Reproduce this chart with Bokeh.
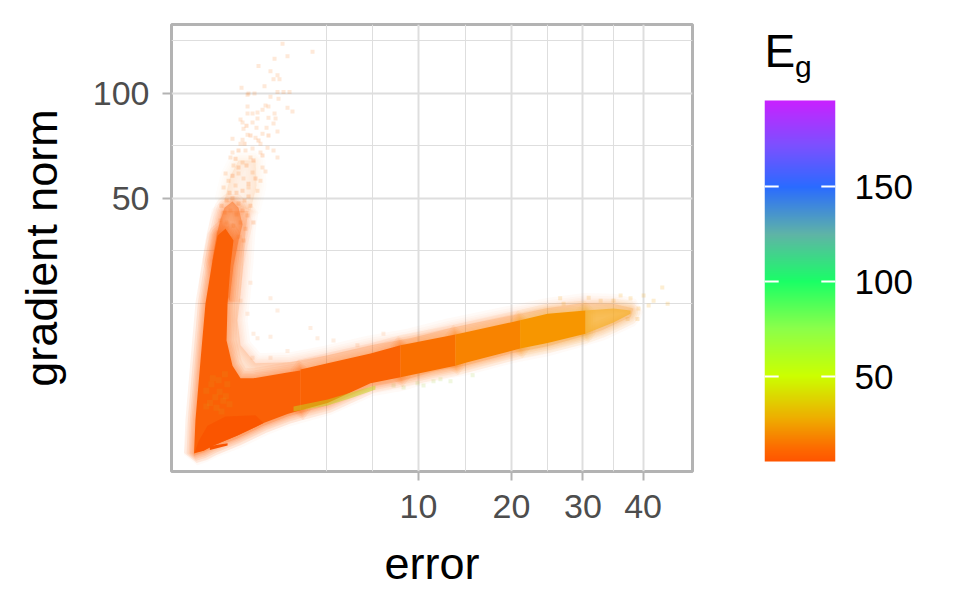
import numpy as np
from bokeh.embed import file_html
from bokeh.resources import INLINE
from bokeh.layouts import row
from bokeh.plotting import figure
from bokeh.models import (Range1d, FixedTicker, CustomJSTickFormatter, BasicTickFormatter,
                          LinearAxis, LinearColorMapper, Label)

FONT = "Liberation Sans"

# ---- axes ----
error_ticks = [10, 20, 30, 40]
error_minor = [3.48, 6.3, 14.6, 24.8, 34.9]
grad_ticks = [50, 100]
grad_minor = [25, 35.4, 70.9, 142]
eg_ticks = [50, 100, 150]
eg_low, eg_high = 5.3, 195.3
eg_stops = [5.3, 12, 28, 50, 75, 100, 125, 150, 172, 195.3]
eg_colors = ["#FF5500", "#FD6A00", "#EEAE00", "#CCFF00", "#8BFF4A", "#19FF66",
             "#5FB4A6", "#2A6BFF", "#7C50FF", "#C822FF"]

# ---- thin upper part of the spike ----
far_err = [0.1845, 0.264, 0.393, 0.75, 0.775, 0.633]
far_grad = [49.3, 58.0, 64.2, 64.2, 54.4, 46.1]

# ---- halo round the whole cloud ----
halo_err = [0.0477, 0.0755, 0.119, 0.15, 0.589, 0.526, 0.486, 0.429, 0.375, 0.429, 0.75, 1.848,
            3.54, 6.18, 9.30, 13.05, 19.87, 24.8, 30.1, 34.9, 38.3, 37.8, 32.8, 30.1, 24.8, 19.87,
            14.84, 11.38, 8.46, 6.18, 3.54, 1.734, 0.96, 0.375, 0.0755, 0.018, 0.0, 0.026]
halo_grad = [29, 35.4, 41.0, 46.0, 46.0, 40.4, 33.1, 26.3, 22.3, 18.9, 16.8, 16.9,
             17.7, 18.9, 19.8, 21.2, 23.0, 24.2, 25.0, 24.9, 24.1, 22.8, 20.8, 20.1, 18.8, 17.9,
             16.6, 15.9, 14.9, 14.4, 12.7, 11.8, 11.1, 10.2, 9.6, 9.3, 9.1, 20.8]

# ---- upper spike, medium density ----
spike_mid_err = [0.068, 0.1004, 0.139, 0.1845, 0.294, 0.393, 0.4666, 0.393, 0.3095, 0.25]
spike_mid_grad = [33.1, 39.1, 43.5, 47.0, 49.0, 47.0, 42.0, 37.8, 32.0, 25.4]

# ---- dense left part and start of the branch ----
core_err = [0.0, 0.0004, 0.0084, 0.026, 0.068, 0.110, 0.197, 0.309, 0.264, 0.223, 0.21, 0.294,
            0.429, 0.702, 1.734, 2.25, 2.25, 1.734, 0.96, 0.375, 0.0755, 0.018]
core_grad = [9.24, 11.5, 17.1, 24.9, 33.1, 39.1, 40.9, 37.8, 32.0, 24.9, 19.5, 16.5,
             15.2, 15.2, 15.8, 16.0, 12.3, 12.0, 11.3, 10.4, 9.74, 9.41]

# ---- yellowish speckles inside the core ----
mix_err = [0.03, 0.06, 0.09, 0.13, 0.17, 0.05, 0.1, 0.2, 0.15, 0.07, 0.12, 0.03, 0.22, 0.25, 0.19]
mix_grad = [14.0, 14.6, 13.4, 13.9, 13.1, 12.9, 12.5, 13.5, 12.2, 15.2, 15.0, 12.6, 14.6, 12.8, 15.6]

# ---- red wedge at the lower left ----
wedge_err = [0.0001, 0.018, 0.0755, 0.375, 0.96, 0.75, 0.197, 0.036, 0.004]
wedge_grad = [9.3, 9.41, 9.74, 10.4, 11.3, 11.9, 11.8, 11.1, 10.0]
spur_err = [0.05, 0.223, 0.223, 0.05]
spur_grad = [9.7, 9.88, 9.74, 9.45]

# ---- branch, from low error to high error ----
seg_a_err = [2.25, 3.54, 6.18, 8.46, 8.46, 6.18, 3.54, 2.25]
seg_a_grad = [16.1, 16.8, 17.9, 18.9, 15.3, 14.7, 12.9, 12.3]
seg_b_err = [8.46, 13.56, 13.56, 8.46]
seg_b_grad = [18.9, 20.3, 16.5, 15.3]
seg_c_err = [13.56, 19.87, 21.1, 21.1, 14.84, 13.56]
seg_c_grad = [20.3, 22.0, 22.3, 18.5, 16.9, 16.5]
seg_d_err = [21.1, 24.8, 30.4, 30.4, 24.8, 21.1]
seg_d_grad = [22.3, 23.3, 23.8, 20.4, 19.2, 18.5]
seg_e_err = [30.4, 34.9, 37.8, 37.8, 34.9, 30.4]
seg_e_grad = [23.8, 24.1, 23.8, 23.3, 22.0, 20.4]

# ---- low-gradient green sliver ----
sliver_err = [1.964, 3.54, 5.05, 6.53, 6.53, 5.05, 3.54, 1.964]
sliver_grad = [12.6, 13.2, 13.9, 14.5, 14.1, 13.4, 12.7, 12.2]

# ---- single visible points ----
top_err = [1.554, 2.786, 1.734, 1.286, 0.825, 1.16, 1.383, 1.254, 1.45, 0.986, 0.448, 0.589, 0.726,
           0.568, 1.16, 1.383, 1.59, 1.81, 1.416, 0.568, 1.014, 1.10, 1.734, 1.924, 0.931, 0.80,
           0.679, 0.568, 1.286, 1.10, 0.80, 0.429, 0.467, 1.318, 0.679, 1.254, 0.486, 1.043, 0.775,
           1.383, 0.931, 0.568, 0.294, 0.467, 0.75, 0.429, 0.877, 0.679, 0.294, 0.526, 1.072, 1.254,
           0.877, 0.264, 0.633, 1.383, 0.467, 0.309, 0.931, 0.197, 0.393, 0.679, 1.014, 0.236,
           0.486, 0.877, 0.173, 0.342, 0.589, 0.80]
top_grad = [139, 132, 128, 126, 120, 116, 113, 110, 110, 105, 104, 100, 100,
            99.3, 98, 101, 101, 101, 96.7, 91.8, 92.4, 91.8, 91.1, 88.8, 89.9, 88.2,
            87.6, 87.6, 87.6, 85.3, 84.8, 84.2, 82.6, 84.8, 82.6, 82, 79.3, 79.8, 79.8,
            77.8, 76.7, 76.2, 74.2, 73.7, 74.7, 71.8, 71.8, 69.5, 67.7, 68.6, 69.9, 68.6,
            67.7, 65.5, 65.5, 65.5, 63.4, 62.1, 61.3, 58.9, 58.9, 59.3, 59.7, 56.2,
            57, 56.2, 53.7, 54.4, 53.7, 52.6]
mid_err = [0.15, 0.21, 0.294, 0.393, 0.506, 0.589, 0.1845, 0.264, 0.358, 0.467, 0.568, 0.139, 0.21,
           0.309, 0.429, 0.526, 0.119, 0.1845, 0.264, 0.393, 0.486, 0.633, 0.702, 0.25, 0.358, 0.467,
           0.589, 0.75, 0.294, 0.393, 0.547, 0.702, 0.393, 0.506, 0.633, 0.825, 0.342, 0.931, 1.10,
           0.547]
mid_grad = [47.6, 49.3, 50, 48.3, 49.3, 50.6, 45.5, 46.1, 44.9, 46.1, 44.6, 43.2, 42.6,
            41.7, 42.6, 40.9, 39.9, 39.1, 38.3, 38.8, 37.8, 47.6, 42.6, 51.9, 51.9, 52.6,
            55.1, 57, 58.1, 61.3, 62.1, 64.2, 68.6, 71.8, 75.8, 73.3, 65, 66.4, 75.8,
            80.9]
gap_err = [0.633, 0.429, 0.568, 1.383, 0.80, 1.16, 0.679, 1.16, 1.734, 2.69, 3.025, 3.86, 0.702,
           5.30, 7.12, 1.16]
gap_grad = [28.6, 25.4, 23.3, 23.8, 19.8, 20, 17.4, 17.4, 18.2, 21.2, 19.8, 19.5, 20.4,
            18.9, 20.4, 25.8]
tip_err = [34.9, 36.1, 37.8, 40.1, 41.9, 44.5, 43.5, 39.0, 37.3, 39.2, 30.9, 32.8, 27.1, 26.6, 41.0]
tip_grad = [25.4, 26.3, 25.8, 26.3, 25.4, 24.9, 27.7, 22.5, 22.5, 24.1, 25.9, 25.4, 24.9, 25.8, 24.6]
faint_err = [13.05, 12.05, 11.38, 8.71, 9.91, 7.9, 10.45, 15.4]
faint_grad = [14.9, 15.1, 14.9, 14.3, 14.7, 14.5, 14.5, 15.5]


def rt(v):
    return np.sqrt(np.asarray(v, dtype=float))


p = figure(output_backend="svg", toolbar_location=None, frame_width=521, frame_height=447,
           min_border_left=171, min_border_right=12, min_border_top=24, min_border_bottom=110,
           x_range=Range1d(-0.317, 7.021), y_range=Range1d(8.2, 158), y_axis_type="log",
           background_fill_color="white", border_fill_color="white",
           outline_line_color="#B3B3B3", outline_line_width=3)

xtick = FixedTicker(ticks=list(rt(error_ticks)), minor_ticks=list(rt(error_minor)))
ytick = FixedTicker(ticks=grad_ticks, minor_ticks=grad_minor)
p.xaxis.ticker = xtick
p.yaxis.ticker = ytick
p.xgrid.ticker = xtick
p.ygrid.ticker = ytick
p.xaxis.formatter = CustomJSTickFormatter(code="return String(Math.round(tick*tick))")
p.yaxis.formatter = BasicTickFormatter()
for g in (p.xgrid, p.ygrid):
    g.grid_line_color = "#DEDEDE"
    g.grid_line_width = 2
    g.minor_grid_line_color = "#DEDEDE"
    g.minor_grid_line_width = 1
for a in (p.xaxis, p.yaxis):
    a.axis_line_color = None
    a.major_tick_line_color = "#B3B3B3"
    a.major_tick_line_width = 2
    a.major_tick_out = 9
    a.major_tick_in = 0
    a.minor_tick_line_color = None
    a.major_label_text_color = "#4D4D4D"
    a.major_label_text_font = FONT
    a.major_label_text_font_size = "34px"
    a.axis_label_text_font = FONT
    a.axis_label_text_font_size = "45px"
    a.axis_label_text_font_style = "normal"
    a.axis_label_text_color = "black"
p.xaxis.axis_label = "error"
p.yaxis.axis_label = "gradient norm"
p.xaxis.major_label_standoff = 14
p.yaxis.major_label_standoff = 13
p.xaxis.axis_label_standoff = 17
p.yaxis.axis_label_standoff = 23


def soft(ex, gy, color, alpha):
    for w in (20, 15, 11, 8, 5, 2):
        p.patch(rt(ex), gy, fill_color=None, line_color=color, line_alpha=alpha * 0.18, line_width=w)


def layer(ex, gy, color, alpha):
    p.patch(rt(ex), gy, fill_color=color, fill_alpha=alpha, line_color=None)


def dots(ex, gy, color, alpha, size=4):
    p.scatter(rt(ex), gy, marker="square", size=size, fill_color=color, fill_alpha=alpha, line_color=None)


dots(top_err, top_grad, "#FA7A20", 0.17)
dots(mid_err, mid_grad, "#FA7A20", 0.22)
dots(gap_err, gap_grad, "#FA8A30", 0.14)
dots(tip_err, tip_grad, "#F6B030", 0.22)
dots(faint_err, faint_grad, "#C4E080", 0.25)
soft(far_err, far_grad, "#FA8A3A", 0.1)
layer(far_err, far_grad, "#FA8A3A", 0.12)
soft(halo_err, halo_grad, "#FA8A3A", 0.25)
layer(halo_err, halo_grad, "#FA8A3A", 0.22)
soft(spike_mid_err, spike_mid_grad, "#FA7020", 0.35)
layer(spike_mid_err, spike_mid_grad, "#FA7020", 0.5)
soft(core_err, core_grad, "#FA6006", 0.5)
for ex, gy, col in ((seg_a_err, seg_a_grad, "#FA6204"), (seg_b_err, seg_b_grad, "#F96F00"),
                    (seg_c_err, seg_c_grad, "#F88300"), (seg_d_err, seg_d_grad, "#F79600")):
    soft(ex, gy, col, 0.4)
soft(seg_e_err, seg_e_grad, "#F6AF28", 0.35)
layer(core_err, core_grad, "#FA6006", 1.0)
dots(mix_err, mix_grad, "#DDA020", 0.15, size=6)
layer(wedge_err, wedge_grad, "#F95400", 0.9)
layer(spur_err, spur_grad, "#F95400", 1.0)
layer(seg_a_err, seg_a_grad, "#FA6204", 1.0)
layer(seg_b_err, seg_b_grad, "#F96F00", 1.0)
layer(seg_c_err, seg_c_grad, "#F88300", 1.0)
layer(seg_d_err, seg_d_grad, "#F79600", 1.0)
layer(seg_e_err, seg_e_grad, "#F6AF28", 0.7)
layer(sliver_err, sliver_grad, "#C4D820", 0.5)

# ---- colour bar panel: same frame height as the main panel, so the row keeps them aligned ----
levels = np.linspace(eg_low, eg_high, 362)
rgb = np.array([[int(c[i:i + 2], 16) for i in (1, 3, 5)] for c in eg_colors], dtype=float)
palette = ["#%02X%02X%02X" % tuple(int(round(np.interp(v, eg_stops, rgb[:, k]))) for k in range(3))
           for v in levels]
mapper = LinearColorMapper(palette=palette, low=eg_low, high=eg_high)

q = figure(output_backend="svg", toolbar_location=None, frame_width=71, frame_height=447,
           min_border_left=60, min_border_right=100, min_border_top=24, min_border_bottom=110,
           x_range=Range1d(0, 1), y_range=Range1d(0.04, 235.3),
           background_fill_color="white", border_fill_color="white", outline_line_color=None,
           x_axis_location=None, y_axis_location=None)
q.grid.visible = False
q.image(image=[levels.reshape(-1, 1)], x=0, y=eg_low, dw=1, dh=eg_high - eg_low, color_mapper=mapper)
q.segment(x0=[0.0] * 3, x1=[0.2] * 3, y0=eg_ticks, y1=eg_ticks, line_color="white", line_width=2)
q.segment(x0=[0.8] * 3, x1=[1.0] * 3, y0=eg_ticks, y1=eg_ticks, line_color="white", line_width=2)
ax = LinearAxis(ticker=FixedTicker(ticks=eg_ticks), axis_line_color=None, major_tick_line_color=None,
                minor_tick_line_color=None, major_label_text_font=FONT,
                major_label_text_font_size="35px", major_label_text_color="black",
                major_label_standoff=13)
q.add_layout(ax, "right")
q.add_layout(Label(x=0.0, y=eg_high + 12.3, x_units="data", y_units="data", text="E",
                   text_font=FONT, text_font_size="46px", text_color="black"))
q.add_layout(Label(x=0.43, y=eg_high + 9, x_units="data", y_units="data", text="g",
                   text_font=FONT, text_font_size="30px", text_color="black"))

open("out.html", "w").write(file_html(row(p, q, spacing=0), INLINE))
